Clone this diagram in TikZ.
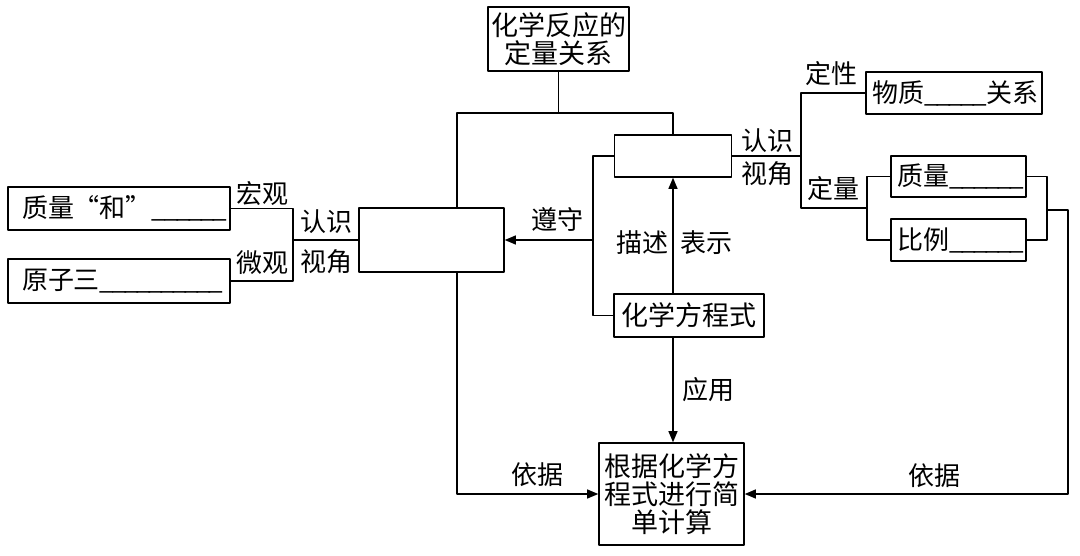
\documentclass[tikz,border=0pt]{standalone}
\usepackage{fontspec}
\setmainfont{Noto Sans CJK SC}
\usetikzlibrary{arrows}
\usetikzlibrary{positioning}
\newcommand\ubar{\_\kern-2.5pt}
\tikzset{
  box/.style={draw,line width=1.6pt,inner sep=0pt,align=center,font=\fontsize{26}{28}\selectfont},
  bigbox/.style={box,font=\fontsize{27}{28}\selectfont},
  lbl/.style={inner sep=0pt,font=\fontsize{26}{28}\selectfont},
}

\begin{document}
\begin{tikzpicture}[line cap=round,line join=round,>=triangle 45,x=1pt,y=-1pt,line width=1.6pt]
\useasboundingbox (0,0) rectangle (1080,555);
% boxes
\node[bigbox,minimum width=141,minimum height=64] (top) at (558.5,39) {化学反应的\\定量关系};
\node[box,minimum width=145,minimum height=64] (law) at (431.5,240) {};
\node[box,minimum width=117,minimum height=42] (eqv) at (673,156) {};
\node[bigbox,minimum width=150,minimum height=43] (eq) at (689,315.5) {化学方程式};
\node[bigbox,minimum width=145,minimum height=102] (calc) at (671.5,494) {根据化学方\\程式进行简\\单计算};
\node[box,minimum width=222,minimum height=43] (sum) at (119,208.5) {\makebox[194pt][l]{质量“和”\ubar\ubar\ubar\ubar\ubar\ubar}};
\node[box,minimum width=222,minimum height=44] (atom) at (119,281) {\makebox[194pt][l]{原子三\ubar\ubar\ubar\ubar\ubar\ubar\ubar\ubar\ubar\ubar}};
\node[box,minimum width=176,minimum height=42] (wz) at (954,93) {\makebox[164pt][l]{物质\ubar\ubar\ubar\ubar\ubar\kern2.5pt 关系}};
\node[box,minimum width=135,minimum height=41] (zl) at (958.5,176.5) {\makebox[123pt][l]{质量\ubar\ubar\ubar\ubar\ubar\ubar}};
\node[box,minimum width=135,minimum height=42] (bl) at (958.5,240) {\makebox[123pt][l]{比例\ubar\ubar\ubar\ubar\ubar\ubar}};
% labels
\node[lbl] (hg) at (262,194) {宏观};
\node[lbl] (wg) at (262,263) {微观};
\node[lbl] (rs1) at (326,222) {认识};
\node[lbl] (sj1) at (326,262) {视角};
\node[lbl] (zs) at (557,219) {遵守};
\node[lbl] (ms) at (642,243) {描述};
\node[lbl] (bs) at (706,243) {表示};
\node[lbl] (rs2) at (767,141) {认识};
\node[lbl] (sj2) at (767,174) {视角};
\node[lbl] (dx) at (831,74) {定性};
\node[lbl] (dl) at (833,189) {定量};
\node[lbl] (yy) at (708,390) {应用};
\node[lbl] (yj1) at (537,475) {依据};
\node[lbl] (yj2) at (934,476) {依据};
% joints
\coordinate (tl) at (457,113);
\coordinate (tr) at (673,113);
\coordinate (dj) at (593,156);
\coordinate (rv) at (801,156);
\coordinate (dq) at (867,208);
\coordinate (br) at (1047,210);
\coordinate (rc) at (1068,210);
\coordinate (lb) at (293,240);
% connectors
\draw (top.south) -- (top.south |- tl);
\draw (tl |- law.north) -- (tl) -- (tr) -- (eqv.north);
\draw[->] (tl |- law.south) |- (calc.west);
\draw (eqv.west) -- (dj) |- (eq.west);
\draw[->] (dj |- law.east) -- (law.east);
\draw[->] (eq.north -| eqv.south) -- (eqv.south);
\draw[->] (eq.south -| eqv.south) -- (calc.north -| eqv.south);
\draw (eqv.east) -- (rv);
\draw (wz.west) -| (rv) |- (dq);
\draw (zl.west) -| (dq);
\draw (bl.west) -| (dq);
\draw (zl.east) -| (br);
\draw (bl.east) -| (br);
\draw[->] (br) -- (rc) |- (calc.east);
\draw (sum.east) -| (lb);
\draw (atom.east) -| (lb);
\draw (lb) -- (law.west);
\end{tikzpicture}
\end{document}
